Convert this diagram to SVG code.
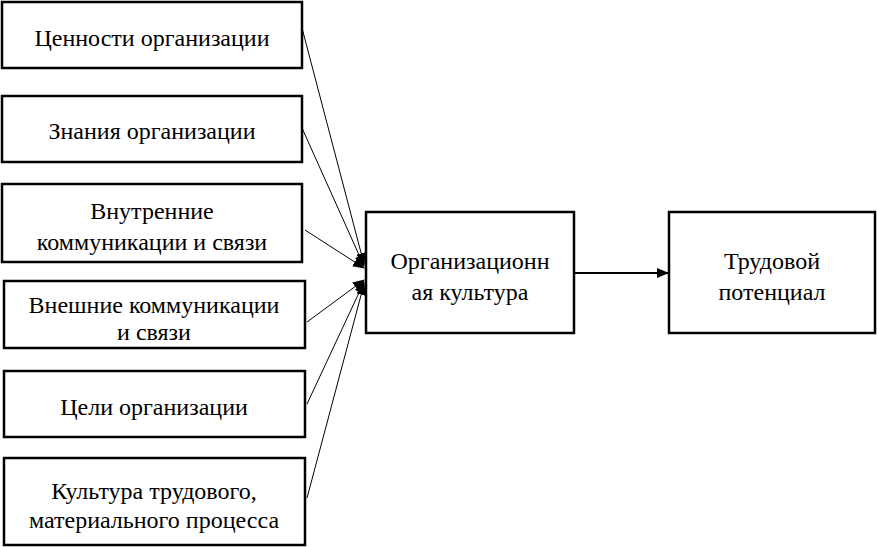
<svg xmlns="http://www.w3.org/2000/svg" width="877" height="547" viewBox="0 0 877 547">
<style>
.box{fill:#fff;stroke:#000;stroke-width:2.5}
.c{stroke:#000;stroke-width:1;fill:none}
.c2{stroke:#000;stroke-width:2;fill:none}
</style>
<defs>
<marker id="ah" markerWidth="12" markerHeight="10" refX="11" refY="5" orient="auto" markerUnits="userSpaceOnUse">
<path d="M0,0 L12,5 L0,10 Z" fill="#000"/>
</marker>
</defs>
<g font-size="24" text-anchor="middle" fill="#000">
<g id="n1"><rect class="box" x="2" y="2" width="300" height="66"/><text font-family="Liberation Serif" x="152" y="46">Ценности организации</text></g>
<g id="n2"><rect class="box" x="2" y="96" width="300" height="66"/><text font-family="Liberation Serif" x="152" y="139">Знания организации</text></g>
<g id="n3"><rect class="box" x="2" y="184" width="300" height="78"/><text font-family="Liberation Serif" x="152" y="219">Внутренние</text><text font-family="Liberation Serif" x="152" y="250">коммуникации и связи</text></g>
<g id="n4"><rect class="box" x="4" y="281" width="301" height="67"/><text font-family="Liberation Serif" x="154" y="313">Внешние коммуникации</text><text font-family="Liberation Serif" x="154" y="340">и связи</text></g>
<g id="n5"><rect class="box" x="4" y="371" width="301" height="66"/><text font-family="Liberation Serif" x="154" y="415">Цели организации</text></g>
<g id="n6"><rect class="box" x="4" y="458" width="301" height="87"/><text font-family="Liberation Serif" x="154" y="499">Культура трудового,</text><text font-family="Liberation Serif" x="154" y="528">материального процесса</text></g>
<g id="n7"><rect class="box" x="366" y="212" width="208" height="121"/><text font-family="Liberation Serif" x="470" y="269">Организационн</text><text font-family="Liberation Serif" x="470" y="300">ая культура</text></g>
<g id="n8"><rect class="box" x="669" y="212" width="206" height="121"/><text font-family="Liberation Serif" x="772" y="269">Трудовой</text><text font-family="Liberation Serif" x="772" y="300">потенциал</text></g>
</g>
<g id="connectors">
<line class="c" x1="302" y1="28" x2="364" y2="264" marker-end="url(#ah)"/>
<line class="c" x1="302" y1="128" x2="364" y2="266" marker-end="url(#ah)"/>
<line class="c" x1="305" y1="230" x2="364" y2="268" marker-end="url(#ah)"/>
<line class="c" x1="307" y1="322" x2="364" y2="280" marker-end="url(#ah)"/>
<line class="c" x1="307" y1="404" x2="364" y2="282" marker-end="url(#ah)"/>
<line class="c" x1="307" y1="498" x2="364" y2="284" marker-end="url(#ah)"/>
<line class="c2" x1="575" y1="273" x2="668" y2="273" marker-end="url(#ah)"/>
</g>
</svg>
